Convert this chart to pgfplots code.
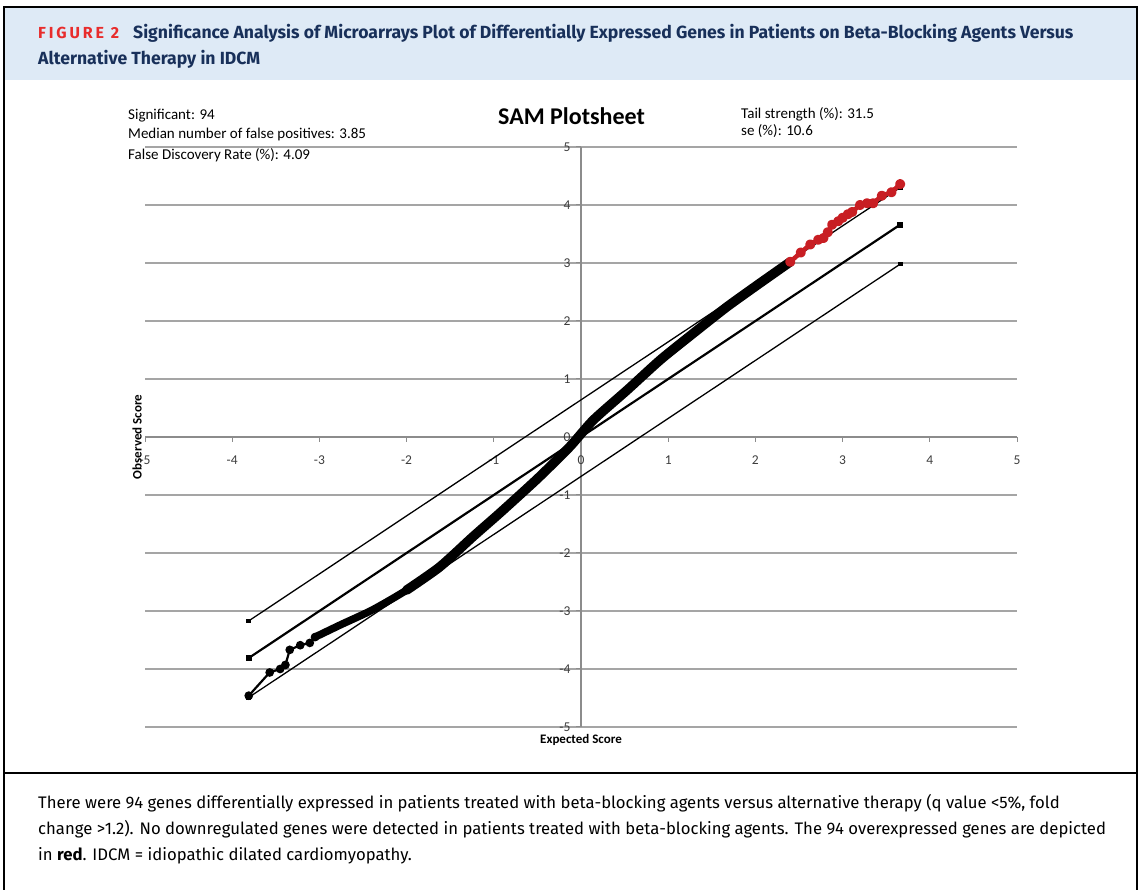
\documentclass[border=0pt]{standalone}
\usepackage{fontspec}
\setmainfont{Carlito}
\newfontfamily\fira{Fira Sans}
\newfontfamily\firaSp{Fira Sans}[LetterSpace=18]
\usepackage{pgfplots}
\pgfplotsset{compat=1.18}
\usepackage{pgfplotstable}

\definecolor{hdrblue}{RGB}{222,234,246}
\definecolor{navy}{RGB}{24,48,90}
\definecolor{figred}{RGB}{232,44,44}
\definecolor{redline}{RGB}{200,30,35}
\definecolor{gridgray}{RGB}{165,165,165}
\definecolor{axisgray}{RGB}{140,140,140}
\definecolor{ticklab}{RGB}{60,60,60}

\pgfplotstableread{
x y
-3.81 -4.46
-3.57 -4.06
-3.45 -4.00
-3.39 -3.93
-3.34 -3.67
-3.22 -3.59
-3.11 -3.55
-3.05 -3.45
}\sparse

\pgfplotstableread{
x y
-3.05 -3.45
-2.76 -3.24
-2.39 -2.98
-2.00 -2.64
-1.62 -2.24
}\denselow

\pgfplotstableread{
x y
-2.00 -2.64
-1.62 -2.24
-1.24 -1.72
-0.93 -1.31
-0.50 -0.72
-0.13 -0.17
0.14 0.29
0.53 0.81
0.91 1.33
1.29 1.79
1.67 2.24
2.05 2.65
2.40 3.02
}\dense

\pgfplotstableread{
x y
2.40 3.02
2.52 3.18
2.63 3.32
2.72 3.40
2.78 3.43
2.83 3.53
2.88 3.66
2.95 3.72
3.00 3.78
3.06 3.84
3.11 3.88
3.20 4.00
3.28 4.03
3.35 4.03
3.45 4.16
3.56 4.22
3.66 4.36
}\redpts

\begin{document}
\begin{tikzpicture}[x=1pt,y=1pt]
\useasboundingbox (0,0) rectangle (1142,890);
% frame and header
\fill[hdrblue] (4,810) rectangle (1137,883);
\draw[line width=2pt] (4,0) -- (4,883) -- (1137,883) -- (1137,0);
\draw[line width=1.5pt] (4,117) -- (1137,117);
\node[anchor=base west, inner sep=0] at (38,851) {\firaSp\bfseries\fontsize{16}{18}\selectfont\color{figred}FIGURE 2};
\node[anchor=base west, inner sep=0] at (133,851) {\fira\bfseries\fontsize{17.6}{20}\selectfont\color{navy}Significance Analysis of Microarrays Plot of Differentially Expressed Genes in Patients on Beta-Blocking Agents Versus};
\node[anchor=base west, inner sep=0] at (38,825) {\fira\bfseries\fontsize{17.6}{20}\selectfont\color{navy}Alternative Therapy in IDCM};
% caption
\node[anchor=base west, inner sep=0] at (38,81) {\fira\fontsize{16.7}{20}\selectfont There were 94 genes differentially expressed in patients treated with beta-blocking agents versus alternative therapy (q value <5\%, fold};
\node[anchor=base west, inner sep=0] at (38,55) {\fira\fontsize{16.7}{20}\selectfont change >1.2). No downregulated genes were detected in patients treated with beta-blocking agents. The 94 overexpressed genes are depicted};
\node[anchor=base west, inner sep=0] at (38,29) {\fira\fontsize{16.7}{20}\selectfont in \textbf{red}. IDCM = idiopathic dilated cardiomyopathy.};
% chart annotations
\node[anchor=base west, inner sep=0] at (128,770) {\fontsize{15}{18}\selectfont Significant: 94};
\node[anchor=base west, inner sep=0] at (128,751) {\fontsize{15}{18}\selectfont Median number of false positives: 3.85};
\node[anchor=base west, inner sep=0] at (128,730) {\fontsize{15}{18}\selectfont False Discovery Rate (\%): 4.09};
\node[anchor=base west, inner sep=0] at (741,771) {\fontsize{15}{18}\selectfont Tail strength (\%): 31.5};
\node[anchor=base west, inner sep=0] at (741,754) {\fontsize{15}{18}\selectfont se (\%): 10.6};
\node[anchor=base west, inner sep=0] at (498,765) {\bfseries\fontsize{24}{28}\selectfont SAM Plotsheet};

\begin{axis}[
  at={(145pt,163pt)}, anchor=south west,
  scale only axis, width=872pt, height=580pt,
  xmin=-5, xmax=5, ymin=-5, ymax=5,
  axis lines=middle,
  axis line style={draw=axisgray, line width=1.2pt, -},
  xtick={-5,-4,...,5}, ytick={-5,-4,...,5},
  hide obscured x ticks=false, hide obscured y ticks=false,
  ymajorgrids, grid style={draw=gridgray, line width=1.3pt},
  tick style={draw=axisgray, line width=1pt},
  major tick length=5pt, tick align=outside,
  /pgf/number format/assume math mode=true,
  ticklabel style={font=\fontsize{13.5}{16}\selectfont, text=ticklab},
  xticklabel style={yshift=-10pt},
  yticklabel style={xshift=-2pt},
  xlabel={Expected Score}, ylabel={Observed Score},
  every axis x label/.style={at={(axis description cs:0.5,-0.0276)}, anchor=base, font=\bfseries\fontsize{13}{15}\selectfont},
  every axis y label/.style={at={(axis description cs:-0.004,0.5)}, anchor=base, rotate=90, font=\bfseries\fontsize{13}{15}\selectfont},
  clip=false,
]
\addplot[black, line width=1.3pt, mark=square*, mark size=1.7pt] coordinates {(-3.81,-3.17) (3.66,4.30)};
\addplot[black, line width=2.2pt, mark=square*, mark size=1.7pt] coordinates {(-3.81,-3.81) (3.66,3.66)};
\addplot[black, line width=1.3pt, mark=square*, mark size=1.7pt] coordinates {(-3.81,-4.49) (3.66,2.98)};
\addplot[black, line width=2.2pt, mark=*, mark size=3.2pt] table {\sparse};
\addplot[black, line width=7.5pt, smooth, tension=0.4, line join=round, line cap=round] table {\denselow};
\addplot[black, line width=9.5pt, smooth, tension=0.4, line join=round, line cap=round] table {\dense};
\addplot[redline, line width=4.5pt, line join=round, line cap=round, mark=*, mark size=2.8pt, mark options={fill=redline, draw=redline}] table {\redpts};
\addplot[redline, only marks, mark=*, mark size=4.2pt, mark options={fill=redline, draw=redline}] coordinates {(3.66,4.36)};
\end{axis}
\end{tikzpicture}
\end{document}
